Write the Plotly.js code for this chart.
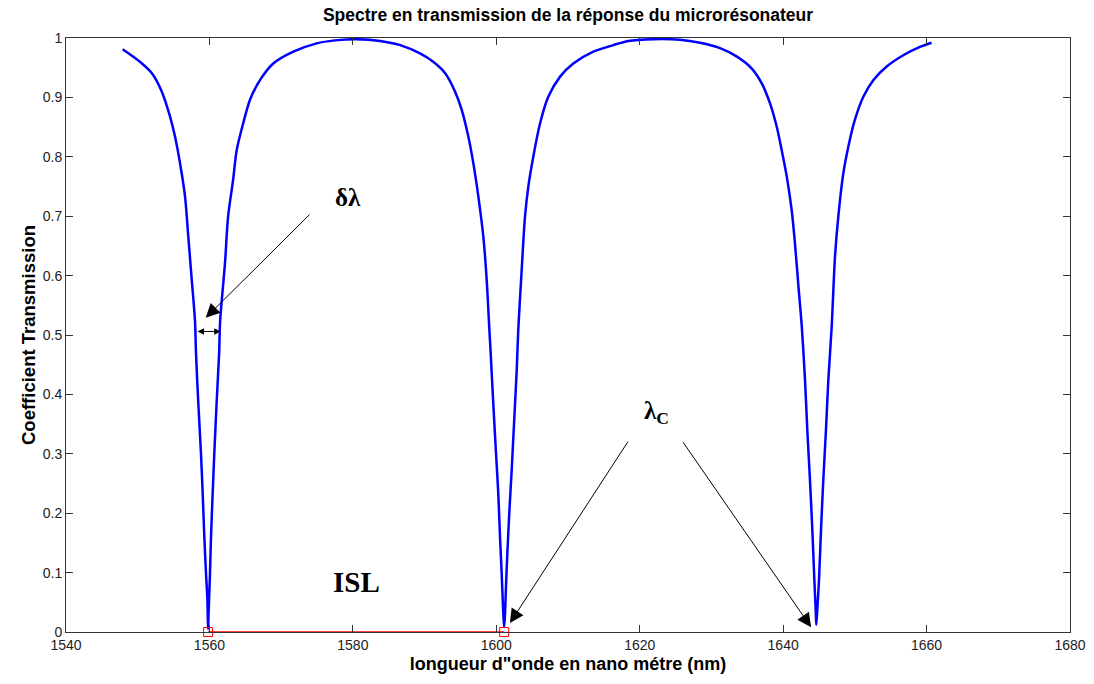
<!DOCTYPE html>
<html>
<head>
<meta charset="utf-8">
<script src="https://cdn.plot.ly/plotly-3.0.1.min.js"></script>
<style>html,body{margin:0;padding:0;background:#fff;}#chart{width:1094px;height:684px;}</style>
</head>
<body>
<div id="chart"></div>
<script>
// Wavelength (nm) and transmission
const wavelength = [
  1547.9, 1550.3, 1551.95, 1553.35, 1554.5, 1555.2, 1555.9, 1556.6, 1557.05, 1557.5,
  1557.98, 1558.13, 1558.45, 1558.82, 1559.06, 1559.29, 1559.52, 1559.7, 1559.78, 1559.82,
  1559.88, 1559.98, 1560.08, 1560.22, 1560.45, 1560.68, 1561.0, 1561.35, 1561.5, 1562.17,
  1562.6, 1563.3, 1563.8, 1564.7, 1565.66, 1567.05, 1568.9, 1571.7, 1574.96, 1577.5,
  1580.5, 1583.8, 1586.6, 1589.36, 1591.2, 1592.85, 1594.24, 1595.18, 1596.1, 1596.8,
  1597.5, 1598.19, 1598.66, 1599.03, 1599.22, 1599.58, 1599.96, 1600.28, 1600.52, 1600.75,
  1600.98, 1601.1, 1601.22, 1601.35, 1601.54, 1601.81, 1602.15, 1602.5, 1602.85, 1603.07,
  1603.54, 1604.0, 1604.47, 1605.16, 1606.1, 1607.25, 1608.9, 1610.74, 1613.53, 1616.3,
  1618.4, 1622.0, 1625.62, 1628.4, 1631.2, 1633.5, 1635.6, 1637.0, 1638.17, 1639.1,
  1639.8, 1640.5, 1641.19, 1641.65, 1642.1, 1642.6, 1643.05, 1643.37, 1643.74, 1644.07,
  1644.35, 1644.54, 1644.62, 1644.76, 1645.0, 1645.28, 1645.6, 1645.97, 1646.3, 1646.77,
  1647.23, 1647.69, 1648.39, 1649.09, 1650.0, 1651.18, 1652.57, 1654.44, 1656.75, 1659.08,
  1660.7
];
const transmission = [
  0.981, 0.960, 0.941, 0.910, 0.868, 0.834, 0.789, 0.733, 0.666, 0.598,
  0.525, 0.469, 0.385, 0.301, 0.233, 0.160, 0.099, 0.059, 0.020, 0.005,
  0.030, 0.065, 0.099, 0.160, 0.233, 0.301, 0.385, 0.469, 0.525, 0.621,
  0.699, 0.761, 0.811, 0.856, 0.896, 0.929, 0.957, 0.977, 0.991, 0.996,
  0.998, 0.995, 0.988, 0.974, 0.960, 0.941, 0.910, 0.879, 0.834, 0.789,
  0.733, 0.666, 0.593, 0.510, 0.469, 0.385, 0.301, 0.233, 0.160, 0.099,
  0.031, 0.008, 0.031, 0.076, 0.132, 0.200, 0.273, 0.357, 0.441, 0.510,
  0.609, 0.699, 0.750, 0.800, 0.856, 0.901, 0.935, 0.957, 0.977, 0.988,
  0.995, 0.998, 0.997, 0.992, 0.983, 0.969, 0.949, 0.924, 0.890, 0.851,
  0.811, 0.767, 0.710, 0.654, 0.587, 0.514, 0.424, 0.340, 0.256, 0.172,
  0.088, 0.037, 0.012, 0.037, 0.088, 0.172, 0.256, 0.340, 0.424, 0.514,
  0.632, 0.699, 0.772, 0.817, 0.862, 0.901, 0.929, 0.952, 0.971, 0.985,
  0.992
];
// ISL segment between two resonances
const islWavelength = [1559.82, 1601.1];
const islLevel = [0, 0];

const xTicks = [1540, 1560, 1580, 1600, 1620, 1640, 1660, 1680];
const yTicks = [0, 0.1, 0.2, 0.3, 0.4, 0.5, 0.6, 0.7, 0.8, 0.9, 1];

const traces = [
  {x: wavelength, y: transmission, type: 'scatter', mode: 'lines',
   line: {color: '#0000ff', width: 2.5, shape: 'spline', smoothing: 0.8}, hoverinfo: 'skip'},
  {x: islWavelength, y: islLevel, type: 'scatter', mode: 'lines+markers',
   line: {color: '#ff0000', width: 1.5},
   marker: {symbol: 'square-open', size: 9, color: '#ff0000', line: {width: 1, color: '#ff0000'}},
   cliponaxis: false, hoverinfo: 'skip'}
];

const serif = {family: '"Liberation Serif", "Times New Roman", serif', size: 25, color: '#000'};
const arrowCommon = {xref: 'x', yref: 'y', axref: 'x', ayref: 'y', showarrow: true,
  arrowhead: 2, arrowsize: 2.8, arrowwidth: 1, arrowcolor: '#000', text: ''};

const layout = {
  width: 1094, height: 684,
  margin: {l: 66, r: 24, t: 38, b: 52},
  paper_bgcolor: '#fff', plot_bgcolor: '#fff',
  showlegend: false,
  font: {family: '"Liberation Sans", Arial, sans-serif', size: 14, color: '#222'},
  title: {text: '<b>Spectre en transmission de la réponse du microrésonateur</b>',
          x: 0.5, xref: 'paper', y: 1, yref: 'container', yanchor: 'top', pad: {t: 9},
          font: {family: '"Liberation Sans", Arial, sans-serif', size: 17.5, color: '#000'}},
  xaxis: {range: [1540, 1680], tickvals: xTicks, ticktext: xTicks.map(String),
          ticks: 'inside', ticklen: 7, tickcolor: '#333', tickwidth: 1,
          showline: true, linecolor: '#333', linewidth: 1, mirror: 'ticks',
          showgrid: false, zeroline: false,
          tickfont: {size: 14, color: '#222'},
          title: {text: '<b>longueur d"onde en nano métre (nm)</b>', standoff: 5,
                  font: {size: 18, color: '#000'}}},
  yaxis: {range: [0, 1], tickvals: yTicks, ticktext: yTicks.map(v => String(v)),
          ticks: 'inside', ticklen: 7, tickcolor: '#333', tickwidth: 1,
          showline: true, linecolor: '#333', linewidth: 1, mirror: 'ticks',
          showgrid: false, zeroline: false,
          tickfont: {size: 14, color: '#222'},
          title: {text: '<b>Coefficient Transmission</b>', standoff: 2,
                  font: {size: 18.5, color: '#000'}}},
  annotations: [
    Object.assign({}, arrowCommon, {x: 1559.48, y: 0.529, ax: 1574.16, ay: 0.705}),
    Object.assign({}, arrowCommon, {x: 1561.57, y: 0.506, ax: 1558.13, ay: 0.506,
      arrowside: 'end+start', startarrowhead: 2, arrowsize: 1.3, startarrowsize: 1.3}),
    Object.assign({}, arrowCommon, {x: 1601.9, y: 0.015, ax: 1618.5, ay: 0.323}),
    Object.assign({}, arrowCommon, {x: 1643.9, y: 0.008, ax: 1625.9, ay: 0.322}),
    {xref: 'x', yref: 'y', x: 1579.3, y: 0.732, text: '<b>δλ</b>', showarrow: false, font: serif},
    {xref: 'x', yref: 'y', x: 1622.3, y: 0.370, text: '<b>λ<sub>C</sub></b>', showarrow: false, font: serif},
    {xref: 'x', yref: 'y', x: 1580.44, y: 0.084, text: '<b>ISL</b>', showarrow: false,
     font: Object.assign({}, serif, {size: 29})}
  ]
};

Plotly.newPlot('chart', traces, layout, {displayModeBar: false, staticPlot: true});
</script>
</body>
</html>
